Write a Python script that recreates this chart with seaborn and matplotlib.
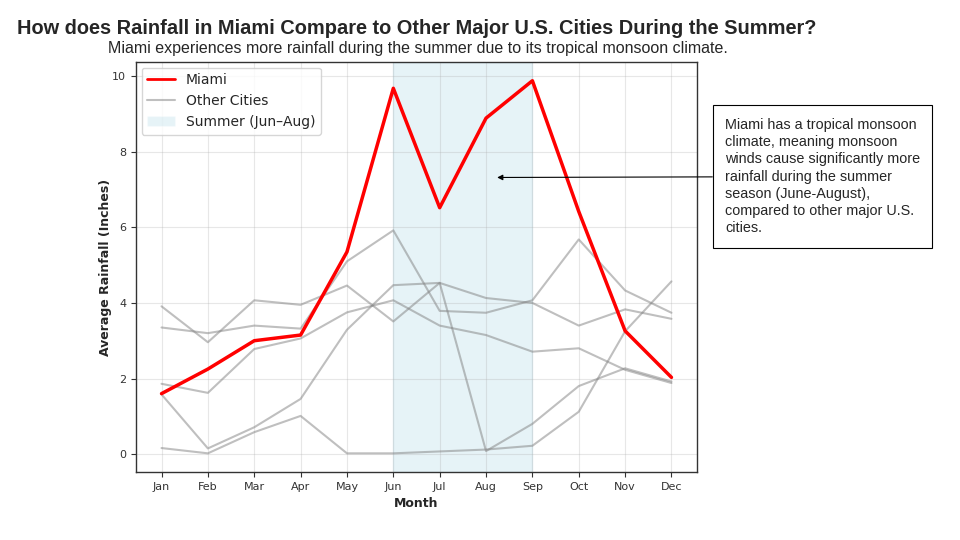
import matplotlib
matplotlib.use("Agg")
import matplotlib.pyplot as plt
import seaborn as sns
import pandas as pd
from matplotlib.lines import Line2D
from matplotlib.patches import Patch

months = ["Jan", "Feb", "Mar", "Apr", "May", "Jun", "Jul", "Aug", "Sep", "Oct", "Nov", "Dec"]
miami = [1.60, 2.25, 3.00, 3.15, 5.35, 9.68, 6.52, 8.89, 9.88, 6.42, 3.26, 2.03]
city_a = [3.91, 2.96, 4.07, 3.95, 4.46, 3.51, 4.53, 4.13, 4.00, 3.40, 3.83, 3.58]
city_b = [3.35, 3.20, 3.40, 3.32, 5.10, 5.92, 3.79, 3.74, 4.07, 5.68, 4.33, 3.74]
city_c = [1.86, 1.62, 2.78, 3.06, 3.75, 4.07, 3.40, 3.15, 2.71, 2.80, 2.23, 1.88]
city_d = [1.58, 0.15, 0.71, 1.46, 3.29, 4.47, 4.53, 0.08, 0.80, 1.80, 2.27, 1.92]
city_e = [0.16, 0.02, 0.58, 1.01, 0.02, 0.02, 0.07, 0.12, 0.22, 1.12, 3.25, 4.57]
others = {"City A": city_a, "City B": city_b, "City C": city_c, "City D": city_d, "City E": city_e}

rows = []
for name, vals in others.items():
    for i, v in enumerate(vals):
        rows.append({"city": name, "month": i, "rain": v})
df_other = pd.DataFrame(rows)
df_miami = pd.DataFrame({"month": range(12), "rain": miami})

sns.set_style("white")
fig = plt.figure(figsize=(9.6, 5.4), dpi=100)
ax = fig.add_axes([0.1417, 0.126, 0.5843, 0.759])

ax.axvspan(5, 8, color="lightblue", alpha=0.3, zorder=0)
sns.lineplot(data=df_other, x="month", y="rain", units="city", estimator=None,
             color="gray", alpha=0.5, linewidth=1.5, ax=ax, legend=False)
sns.lineplot(data=df_miami, x="month", y="rain", color="red", linewidth=2.5, ax=ax, legend=False)

ax.set_xticks(range(12))
ax.set_xticklabels(months)
ax.tick_params(axis="both", labelsize=8, colors="#333333", length=3.5, direction="out",
               bottom=True, left=True)
ax.grid(True, color="#b0b0b0", alpha=0.3, linewidth=0.8)
for s in ax.spines.values():
    s.set_visible(True)
    s.set_color("#333333")
    s.set_linewidth(1.0)
ax.set_xlabel("Month", fontsize=9, fontweight="bold")
ax.set_ylabel("Average Rainfall (Inches)", fontsize=9, fontweight="bold", labelpad=0)

handles = [Line2D([0], [0], color="red", linewidth=2),
           Line2D([0], [0], color="gray", alpha=0.5, linewidth=1.5),
           Patch(facecolor="lightblue", alpha=0.3)]
ax.legend(handles, ["Miami", "Other Cities", "Summer (Jun–Aug)"], loc="upper left", fontsize=10,
          frameon=True, borderaxespad=0.4)

fig.text(0.018, 0.948, "How does Rainfall in Miami Compare to Other Major U.S. Cities During the Summer?",
         fontsize=14.4, fontweight="bold", family="Liberation Sans", va="center", ha="left")
fig.text(0.112, 0.911, "Miami experiences more rainfall during the summer due to its tropical monsoon climate.",
         fontsize=11.5, family="Liberation Sans", va="center", ha="left")

ax.annotate("Miami has a tropical monsoon\nclimate, meaning monsoon\nwinds cause significantly more\n"
            "rainfall during the summer\nseason (June-August),\ncompared to other major U.S.\ncities.",
            xy=(7.24, 7.32), xycoords="data",
            xytext=(0.7552, 0.673), textcoords="figure fraction",
            fontsize=10.4, family="Liberation Sans", va="center", ha="left", linespacing=1.3,
            bbox=dict(boxstyle="square,pad=0.85", facecolor="white", edgecolor="black", linewidth=0.8),
            arrowprops=dict(arrowstyle="-|>", color="black", linewidth=0.8, mutation_scale=8,
                            shrinkA=0, shrinkB=0),
            annotation_clip=False)

fig.savefig("out.png", dpi=100)
